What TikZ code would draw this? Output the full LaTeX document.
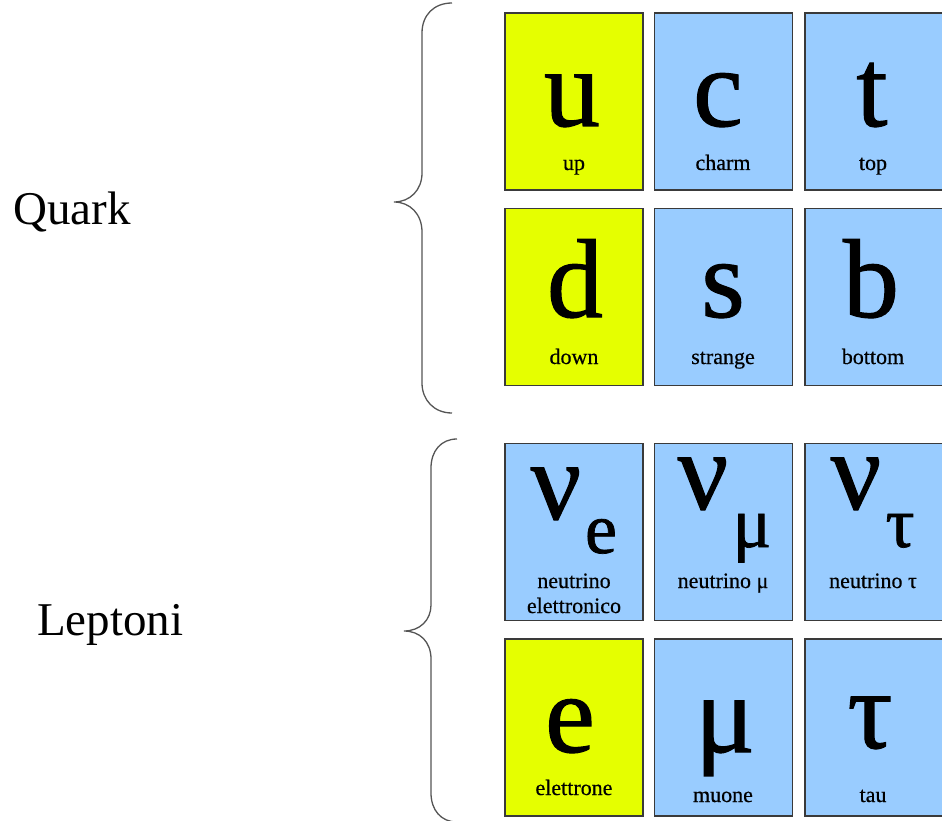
\documentclass[tikz,border=0pt]{standalone}
\usepackage{fontspec}
\setmainfont{Liberation Serif}
\newfontfamily\qfont[FakeBold=1.0]{Liberation Serif}
\newfontfamily\qlab[FakeBold=0.5]{Liberation Serif}
\definecolor{qyellow}{HTML}{E5FF00}
\definecolor{qblue}{HTML}{99CCFF}
\definecolor{qborder}{HTML}{3A3A3A}
\definecolor{brace}{HTML}{555555}
\begin{document}
\begin{tikzpicture}[x=1pt,y=-1pt,
  cell/.style={draw=qborder,line width=1.6pt,minimum width=138pt,minimum height=177pt,inner sep=0pt},
  ycell/.style={cell,fill=qyellow},
  bcell/.style={cell,fill=qblue},
  big/.style={anchor=base,inner sep=0pt,font={\qfont\fontsize{112}{112}\selectfont}},
  sub/.style={anchor=base,inner sep=0pt,font={\qfont\fontsize{72}{72}\selectfont}},
  lab/.style={anchor=base,inner sep=0pt,font={\qlab\fontsize{22}{22}\selectfont}},
  side/.style={anchor=base west,inner sep=0pt,font={\rmfamily\fontsize{47}{47}\selectfont}},
  bracestyle/.style={draw=brace,line width=1.3pt}]
\useasboundingbox (0,0) rectangle (942,821);
% boxes
\node[ycell] (u) at (574,101.5) {};
\node[bcell] (c) at (723.5,101.5) {};
\node[bcell] (t) at (874,101.5) {};
\node[ycell] (d) at (574,297) {};
\node[bcell] (s) at (723.5,297) {};
\node[bcell] (b) at (874,297) {};
\node[bcell] (ne) at (574,532) {};
\node[bcell] (nm) at (723.5,532) {};
\node[bcell] (nt) at (874,532) {};
\node[ycell] (e) at (574,727.5) {};
\node[bcell] (mu) at (723.5,727.5) {};
\node[bcell] (tau) at (874,727.5) {};
% row 1
\node[big] (ut) at (572,126) {u};
\node[big] (ct) at (718,126) {c};
\node[big] (tt) at (872,126) {t};
\node[lab] (ul) at (574,170) {up};
\node[lab] (cl) at (723,170) {charm};
\node[lab] (tl) at (873,170) {top};
% row 2
\node[big] (dt) at (575,317) {d};
\node[big] (st) at (723,317) {s};
\node[big] (bt) at (871,317) {b};
\node[lab] (dl) at (574,364) {down};
\node[lab] (sl) at (723,364) {strange};
\node[lab] (bl) at (873,364) {bottom};
% row 3
\node[big] (nut1) at (556,519) {ν};
\node[sub] (sub1) at (601,553) {e};
\node[big] (nut2) at (703,509) {ν};
\node[sub] (sub2) at (752,547) {μ};
\node[big] (nut3) at (856,509) {ν};
\node[sub] (sub3) at (900,547) {τ};
\node[lab] (nl1) at (574,588) {neutrino};
\node[lab] (nl1b) at (574,613) {elettronico};
\node[lab] (nl2) at (723,588) {neutrino μ};
\node[lab] (nl3) at (873,588) {neutrino τ};
% row 4
\node[big] (et) at (570,752) {e};
\node[big] (mut) at (725,752) {μ};
\node[big] (taut) at (870,748) {τ};
\node[lab] (el) at (574,795) {elettrone};
\node[lab] (ml) at (723,802) {muone};
\node[lab] (tal) at (873,802) {tau};
% side labels
\node[side] (quark) at (13,225) {Quark};
\node[side] (lept) at (37,635) {Leptoni};
% braces
\draw[bracestyle] (452,3) .. controls (434,3) and (422,15) .. (422,33) -- (422,173)
  .. controls (422,190) and (410,202) .. (394,202)
  .. controls (410,202) and (422,214) .. (422,232) -- (422,383)
  .. controls (422,400) and (434,413) .. (452,413);
\draw[bracestyle] (457,439) .. controls (441,439) and (431,451) .. (431,468) -- (431,605)
  .. controls (431,620) and (420,631) .. (404,631)
  .. controls (420,631) and (431,642) .. (431,659) -- (431,793)
  .. controls (431,810) and (441,822) .. (457,822);
\end{tikzpicture}
\end{document}
